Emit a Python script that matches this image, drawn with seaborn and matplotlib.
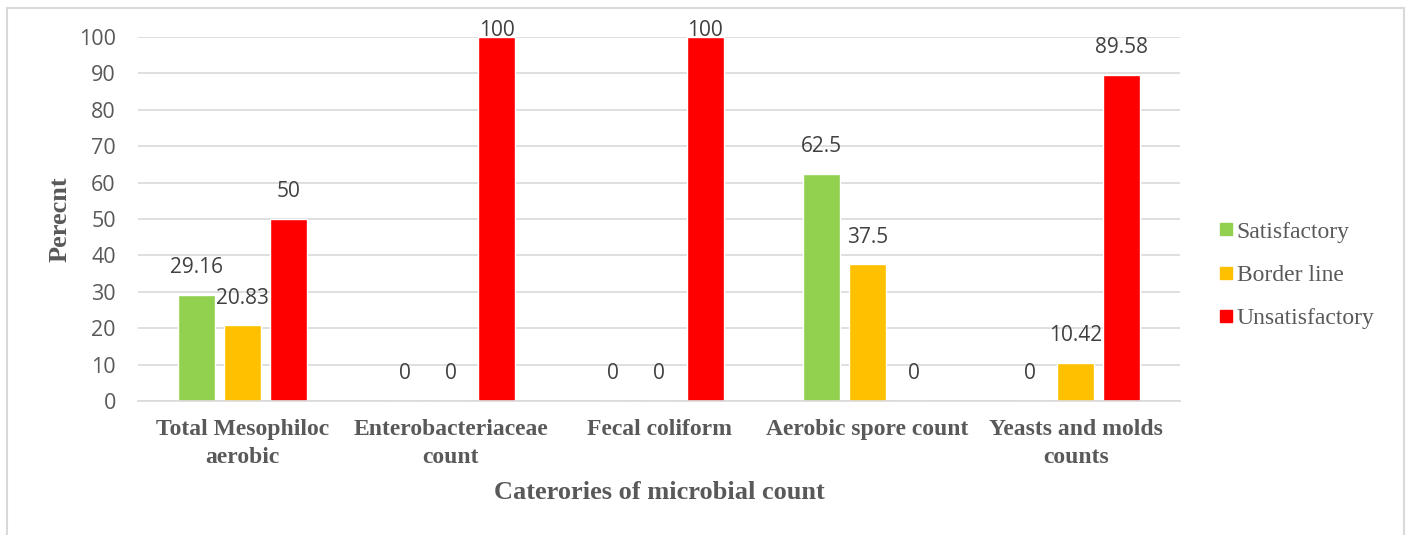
import matplotlib
matplotlib.use("Agg")
import matplotlib.pyplot as plt
from matplotlib.lines import Line2D
import numpy as np
import pandas as pd
import seaborn as sns

categories = ["Total Mesophiloc\naerobic", "Enterobacteriaceae\ncount", "Fecal coliform",
              "Aerobic spore count", "Yeasts and molds\ncounts"]
series = ["Satisfactory", "Border line", "Unsatisfactory"]
satisfactory = [29.16, 0, 0, 62.5, 0]
border_line = [20.83, 0, 0, 37.5, 10.42]
unsatisfactory = [50, 100, 100, 0, 89.58]
colors = ["#92D050", "#FFC000", "#FF0000"]

df = pd.DataFrame({
    "category": categories * 3,
    "status": [s for s in series for _ in categories],
    "value": satisfactory + border_line + unsatisfactory,
})

sns.set_style("white")
plt.rcParams["font.family"] = ["Open Sans", "DejaVu Sans"]
grey = "#595959"

fig = plt.figure(figsize=(14.09, 5.35), dpi=100)
ax = fig.add_axes([0.098, 0.2505, 0.7395, 0.6803])

sns.barplot(data=df, x="category", y="value", hue="status", order=categories,
            hue_order=series, palette=colors, width=0.663, gap=0.2,
            saturation=1, ax=ax, legend=True)

# Excel-style "outside end" labels, kept inside the plot area near the top
for cont in ax.containers:
    for bar, v in zip(cont, cont.datavalues):
        pad = 12 if v < 95 else -3
        ax.annotate(f"{v:g}", xy=(bar.get_x() + bar.get_width() / 2, v),
                    xytext=(0, pad), textcoords="offset points",
                    ha="center", va="bottom", fontsize=15, color="#404040",
                    annotation_clip=False)

ax.set_ylim(0, 100)
ax.set_xlim(-0.5, 4.5)
ax.set_yticks(range(0, 101, 10))
ax.yaxis.grid(True, color="#D9D9D9", linewidth=1.2)
ax.set_axisbelow(True)
for side in ["top", "right", "left"]:
    ax.spines[side].set_visible(False)
ax.spines["bottom"].set_color("#D9D9D9")
ax.spines["bottom"].set_linewidth(1.2)
ax.tick_params(axis="y", length=0, labelsize=15.5, labelcolor=grey, pad=16)
ax.tick_params(axis="x", length=0, pad=13)
ax.set_xticks(np.arange(-0.5, 5.0, 1.0), minor=True)
ax.tick_params(axis="x", which="minor", length=6, color="#D9D9D9", width=1.2)
ax.set_xticklabels(categories, fontsize=17, fontweight="bold", color=grey,
                   family="Liberation Serif", linespacing=1.45)

ax.set_xlabel("Caterories of microbial count", fontsize=19, fontweight="bold",
              color=grey, family="Liberation Serif", labelpad=9)
ax.set_ylabel("Perecnt", fontsize=19, fontweight="bold", color=grey,
              family="Liberation Serif", labelpad=5)

handles = [Line2D([0], [0], marker="s", linestyle="", markersize=9,
                  markerfacecolor=c, markeredgecolor=c) for c in colors]
ax.legend(handles, series, loc="center left", bbox_to_anchor=(1.017, 0.346),
          frameon=False, handlelength=0.6, handletextpad=0.15, labelspacing=0.92,
          prop={"family": "Liberation Serif", "size": 17}, labelcolor=grey)

fig.patches.append(plt.Rectangle((7 / 1409, -0.05), 1397 / 1409, 1.05 - 8 / 535,
                                 transform=fig.transFigure, fill=False,
                                 edgecolor="#D9D9D9", linewidth=1.5))

fig.savefig("out.png", dpi=100)
